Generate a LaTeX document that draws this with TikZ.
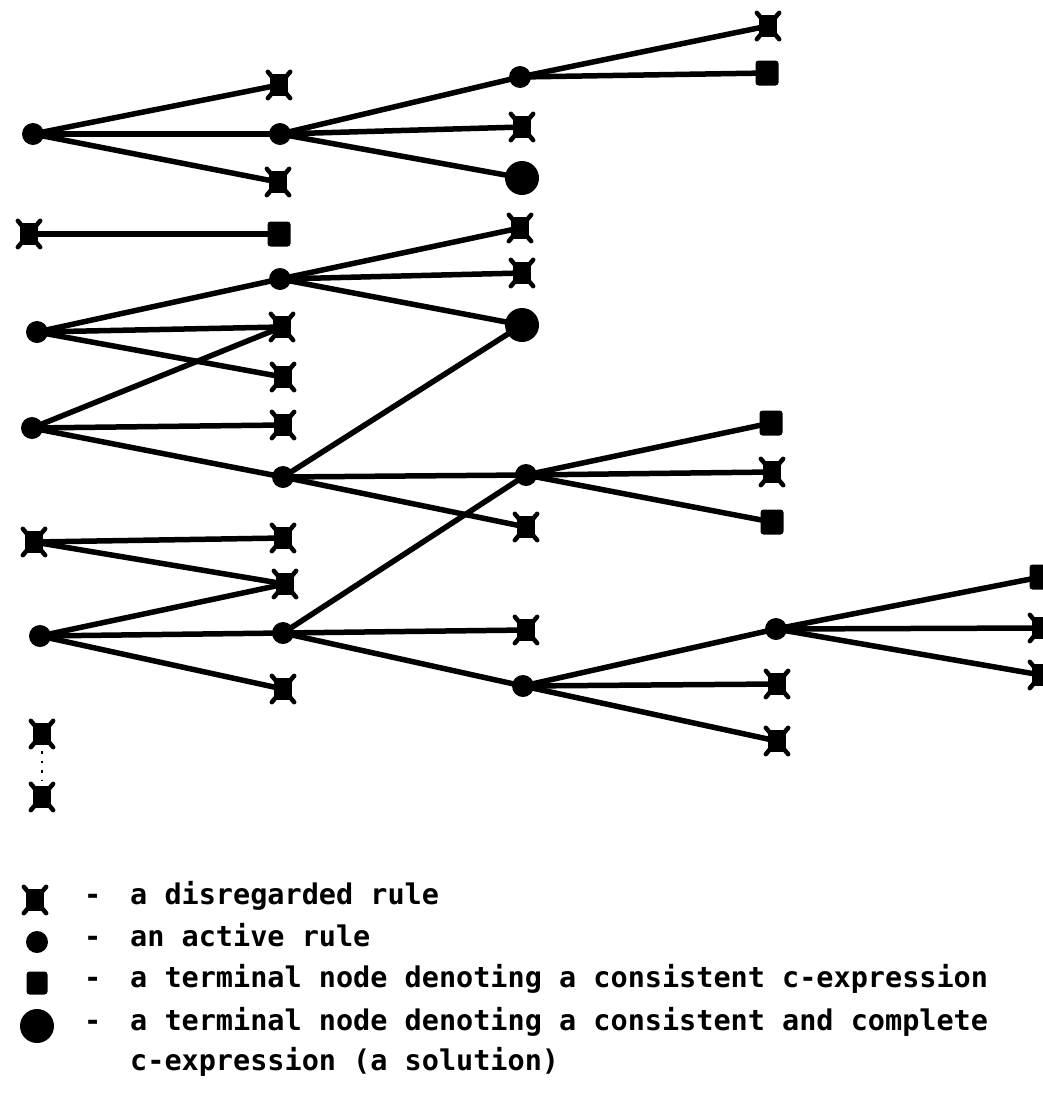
\documentclass[tikz,border=0pt]{standalone}
\usepackage{fontspec}
\newfontfamily\legendfont{DejaVu Sans Mono}
\begin{document}
\begin{tikzpicture}[x=1pt,y=-1pt,
  act/.style={circle,fill=black,inner sep=0pt,minimum size=22pt},
  sol/.style={circle,fill=black,inner sep=0pt,minimum size=34pt},
  term/.style={rectangle,rounded corners=3pt,fill=black,inner sep=0pt,minimum width=23pt,minimum height=25pt},
  dis/.style={rectangle,fill=black,inner sep=0pt,minimum width=18pt,minimum height=22pt},
  spike/.style={line width=4.5pt,line cap=round},
  edge/.style={line width=5.5pt},
  legtext/.style={anchor=mid west,inner sep=0pt,font=\legendfont\bfseries\fontsize{28.5}{34}\selectfont}]
\useasboundingbox (0,0) rectangle (1042,1098);
% column 0
\node[act] (r0a) at (33,134) {};
\node[dis] (r0b) at (29,234) {};
\node[act] (r0c) at (37,332) {};
\node[act] (r0d) at (32,428) {};
\node[dis] (r0e) at (34,542) {};
\node[act] (r0f) at (40,636) {};
\node[dis] (r0g) at (42,734) {};
\node[dis] (r0h) at (42,797) {};
% column 1
\node[dis] (r1a) at (279,85) {};
\node[act] (r1b) at (280,134) {};
\node[dis] (r1c) at (278,182) {};
\node[term] (r1d) at (279,234) {};
\node[act] (r1e) at (280,279) {};
\node[dis] (r1f) at (282,327) {};
\node[dis] (r1g) at (283,377) {};
\node[dis] (r1h) at (283,425) {};
\node[act] (r1i) at (283,477) {};
\node[dis] (r1j) at (283,538) {};
\node[dis] (r1k) at (285,584) {};
\node[act] (r1l) at (283,633) {};
\node[dis] (r1m) at (283,689) {};
% column 2
\node[act] (r2a) at (520,77) {};
\node[dis] (r2b) at (522,127) {};
\node[sol] (r2c) at (522,178) {};
\node[dis] (r2d) at (520,228) {};
\node[dis] (r2e) at (522,273) {};
\node[sol] (r2f) at (522,325) {};
\node[act] (r2g) at (526,475) {};
\node[dis] (r2h) at (526,527) {};
\node[dis] (r2i) at (526,630) {};
\node[act] (r2j) at (523,686) {};
% column 3
\node[dis] (r3a) at (768,26) {};
\node[term] (r3b) at (767,73) {};
\node[term] (r3c) at (771,423) {};
\node[dis] (r3d) at (772,472) {};
\node[term] (r3e) at (772,522) {};
\node[act] (r3f) at (776,629) {};
\node[dis] (r3g) at (777,684) {};
\node[dis] (r3h) at (777,741) {};
% column 4
\node[term] (r4a) at (1041,577) {};
\node[dis] (r4b) at (1041,628) {};
\node[dis] (r4c) at (1041,675) {};
% edges
\foreach \a/\b in {r0a/r1a,r0a/r1b,r0a/r1c,r0b/r1d,r0c/r1e,r0c/r1f,r0c/r1g,
  r0d/r1f,r0d/r1h,r0d/r1i,r0e/r1j,r0e/r1k,r0f/r1k,r0f/r1l,r0f/r1m,
  r1b/r2a,r1b/r2b,r1b/r2c,r1e/r2d,r1e/r2e,r1e/r2f,r1i/r2f,r1i/r2g,r1i/r2h,
  r1l/r2g,r1l/r2i,r1l/r2j,r2a/r3a,r2a/r3b,r2g/r3c,r2g/r3d,r2g/r3e,
  r2j/r3f,r2j/r3g,r2j/r3h,r3f/r4a,r3f/r4b,r3f/r4c}
  \draw[edge] (\a.center) -- (\b.center);
\draw[line width=2.5pt,dash pattern=on 2.5pt off 7pt] ([yshift=-6pt]r0g.south) -- ([yshift=6pt]r0h.north);
% legend
\node[dis] (l1) at (35,900) {};
\node[act] (l2) at (37,942) {};
\node[term,minimum width=21pt,minimum height=23pt] (l3) at (37,983) {};
\node[sol] (l4) at (37,1026) {};
% spikes on disregarded rules
\foreach \n in {r0b,r0e,r0g,r0h,r1a,r1c,r1f,r1g,r1h,r1j,r1k,r1m,r2b,r2d,r2e,r2h,r2i,r3a,r3d,r3g,r3h,r4b,r4c,l1}
  \draw[spike] ([shift={(-2pt,2pt)}]\n.north west) -- ([shift={(2pt,-2pt)}]\n.south east)
               ([shift={(2pt,2pt)}]\n.north east) -- ([shift={(-2pt,-2pt)}]\n.south west);
\node[legtext] (d1) at (84,902) {-};
\node[legtext] (d2) at (84,944) {-};
\node[legtext] (d3) at (84,985) {-};
\node[legtext] (d4) at (84,1028) {-};
\node[legtext] (t1) at (130,902) {a disregarded rule};
\node[legtext] (t2) at (130,944) {an active rule};
\node[legtext] (t3) at (130,985) {a terminal node denoting a consistent c-expression};
\node[legtext] (t4) at (130,1028) {a terminal node denoting a consistent and complete};
\node[legtext] (t5) at (130,1068) {c-expression (a solution)};
\end{tikzpicture}
\end{document}
